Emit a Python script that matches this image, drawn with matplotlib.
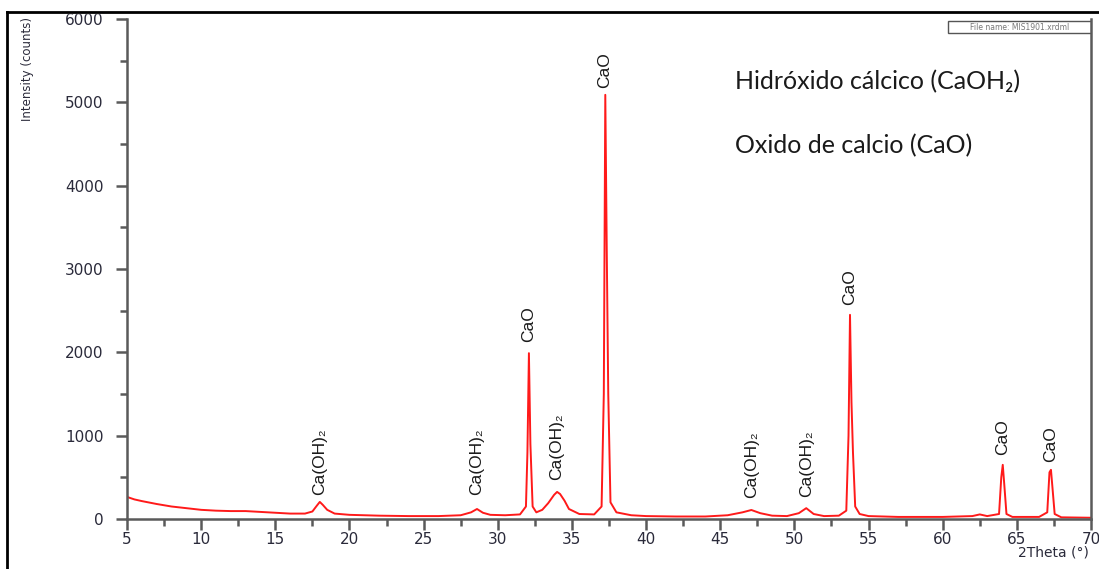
import matplotlib.pyplot as plt
from matplotlib.lines import Line2D
from matplotlib.patches import Rectangle
from matplotlib.ticker import MultipleLocator

# diffractogram (2theta in degrees, intensity in counts)
two_theta = [5.0, 5.5, 6.0, 7.0, 8.0, 9.0, 10.0, 11.0, 12.0, 13.0, 14.0, 15.0, 16.0, 17.0,
             17.5, 17.8, 18.0, 18.2, 18.5, 19.0, 20.0, 22.0, 24.0, 26.0, 27.5, 28.2, 28.6,
             29.0, 29.5, 30.5, 31.5, 31.9, 32.0, 32.1, 32.2, 32.35, 32.6, 33.0, 33.4, 33.8,
             34.0, 34.2, 34.5, 34.8, 35.5, 36.5, 37.0, 37.15, 37.25, 37.35, 37.45, 37.6,
             38.0, 39.0, 40.0, 42.0, 44.0, 45.5, 46.5, 47.1, 47.7, 48.5, 49.5, 50.3, 50.8,
             51.3, 52.0, 53.0, 53.5, 53.65, 53.75, 53.85, 53.95, 54.1, 54.4, 55.0, 57.0,
             60.0, 62.0, 62.5, 63.0, 63.8, 63.95, 64.05, 64.15, 64.3, 64.7, 66.5, 67.05,
             67.2, 67.3, 67.4, 67.55, 68.0, 70.0]
counts = [265, 235, 215, 180, 150, 130, 110, 100, 95, 95, 85, 75, 65, 65,
          90, 160, 205, 170, 110, 65, 50, 40, 35, 35, 45, 80, 120,
          75, 50, 45, 55, 150, 800, 1990, 900, 150, 80, 110, 190, 290,
          325, 300, 220, 120, 60, 55, 150, 1500, 5090, 3200, 1500, 200,
          80, 45, 35, 30, 30, 45, 80, 108, 70, 40, 35, 70, 130,
          60, 35, 40, 100, 1000, 2450, 1400, 800, 150, 60, 35, 25,
          25, 35, 55, 35, 60, 500, 650, 420, 60, 25, 25, 80,
          560, 590, 380, 60, 20, 15]

# phase labels above the peaks
label_x = [18.0, 28.6, 32.05, 34.0, 37.2, 47.1, 50.8, 53.7, 64.05, 67.25]
label_y = [290, 290, 2124, 468, 5172, 254, 264, 2568, 768, 684]
label_text = ['Ca(OH)₂', 'Ca(OH)₂', 'CaO', 'Ca(OH)₂', 'CaO',
              'Ca(OH)₂', 'Ca(OH)₂', 'CaO', 'CaO', 'CaO']

phases = ['Hidróxido cálcico (CaOH₂)', 'Oxido de calcio (CaO)']

W, H = 1099, 569
fig = plt.figure(figsize=(W / 100, H / 100), dpi=100)
ax = fig.add_axes([127 / W, 1 - 519 / H, (1091 - 127) / W, (519 - 19) / H])

ax.plot(two_theta, counts, color='#ff1a1a', lw=1.4)

for x, y, t in zip(label_x, label_y, label_text):
    ax.text(x, y, t, rotation=90, ha='center', va='bottom', fontsize=12.5,
            family=['Liberation Sans', 'DejaVu Sans'], color='#1a1a1a')

ax.set_xlim(5, 70)
ax.set_ylim(0, 6000)
ax.xaxis.set_major_locator(MultipleLocator(5))
ax.xaxis.set_minor_locator(MultipleLocator(2.5))
ax.yaxis.set_major_locator(MultipleLocator(1000))
ax.yaxis.set_minor_locator(MultipleLocator(500))

axis_col = '#5a5a5a'
tick_col = '#2a2a3a'
for s in ['left', 'bottom', 'right']:
    ax.spines[s].set_color(axis_col)
    ax.spines[s].set_linewidth(1.8)
ax.spines['top'].set_visible(False)
ax.tick_params(which='both', direction='out', color=axis_col, width=1.8,
               labelsize=11, labelcolor=tick_col)
ax.tick_params(which='major', length=8)
ax.tick_params(which='minor', length=5)
ax.tick_params(axis='x', pad=1)
ax.tick_params(axis='y', pad=9)
for lab in ax.get_xticklabels() + ax.get_yticklabels():
    lab.set_family('DejaVu Sans')

# file name box in the upper right corner
ax.add_patch(Rectangle((948 / W, 1 - 33 / H), (1092 - 948) / W, 12 / H,
                       transform=fig.transFigure, fill=False, ec='#555555', lw=1.0))
fig.text(1020 / W, 1 - 27 / H, 'File name: MIS1901.xrdml', ha='center', va='center',
         fontsize=5.5, color='#777777')

fig.text(28 / W, 1 - 17 / H, 'Intensity (counts)', rotation=90, ha='center', va='top',
         fontsize=8.5, color=tick_col, family='DejaVu Sans')
fig.text(1018 / W, 1 - 552 / H, '2Theta (°)', ha='left', va='center',
         fontsize=10, color=tick_col, family='DejaVu Sans')

fig.text(735 / W, 1 - 82 / H, phases[0], ha='left', va='center', fontsize=18,
         family=['Lato', 'DejaVu Sans'], color='#1a1a1a')
fig.text(735 / W, 1 - 146 / H, phases[1], ha='left', va='center', fontsize=18,
         family=['Lato', 'DejaVu Sans'], color='#1a1a1a')

# outer frame of the picture
fig.patches.append(Rectangle((0, 1 - 13 / H), 1, 13 / H, transform=fig.transFigure,
                             color='white', zorder=5))
fig.lines.append(Line2D([7 / W, 1], [1 - 12 / H, 1 - 12 / H], transform=fig.transFigure,
                        color='black', lw=2, zorder=6))
fig.lines.append(Line2D([7 / W, 7 / W], [0, 1 - 12 / H], transform=fig.transFigure,
                        color='black', lw=2, zorder=6))

fig.savefig('out.png', dpi=100)
